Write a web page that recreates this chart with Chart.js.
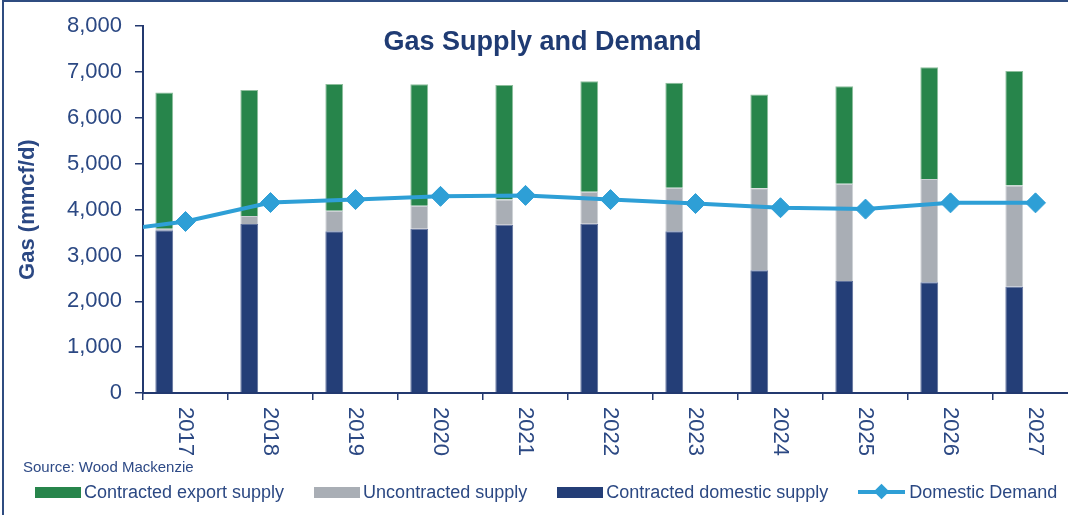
<!DOCTYPE html>
<html>
<head>
<meta charset="utf-8">
<script src="https://cdn.jsdelivr.net/npm/chart.js@4/dist/chart.umd.min.js"></script>
<style>
  html, body { margin: 0; padding: 0; background: #ffffff; overflow: hidden; width: 1068px; height: 515px; }
  #wrap { position: absolute; left: 0; top: 0; width: 1090px; height: 515px; }
  #frame { position: absolute; left: 2px; top: 0; width: 1100px; height: 600px; border: 2px solid #2F4C80; pointer-events: none; box-sizing: border-box; }
  #title { position: absolute; left: 0; top: 28px; width: 1085px; text-align: center; font: bold 27px/27px "Liberation Sans", Arial, sans-serif; color: #1F3B73; pointer-events: none; }
  #source { position: absolute; left: 23px; top: 459px; font: 15px/15px "Liberation Sans", Arial, sans-serif; color: #2E4A86; }
  #legend { position: absolute; left: 35px; top: 483px; display: flex; align-items: center; white-space: nowrap;
            font: 18px/18px "Liberation Sans", Arial, sans-serif; color: #2B4883; }
  .item { display: flex; align-items: center; margin-right: 30px; }
  .sw { width: 46px; height: 11px; margin-right: 3px; position: relative; }
  .sw.line { height: 4px; width: 47px; margin-right: 4px; }
  .sw.line::after { content: ''; position: absolute; left: 18px; top: -4.5px; width: 11px; height: 11px; background: inherit; transform: rotate(45deg); }
</style>
</head>
<body>
<div id="wrap">
  <canvas id="c" width="1090" height="515"></canvas>
  <div id="title">Gas Supply and Demand</div>
  <div id="source">Source: Wood Mackenzie</div>
  <div id="legend"></div>
</div>
<div id="frame"></div>
<script>
// ---- data ----
const years = ['2017','2018','2019','2020','2021','2022','2023','2024','2025','2026','2027'];
const contractedDomestic = [3548, 3684, 3528, 3583, 3669, 3690, 3528, 2679, 2444, 2417, 2323];
const uncontracted       = [  35,  177,  449,  500,  549,  699,  946, 1789, 2122, 2250, 2201];
const contractedExport   = [2970, 2750, 2762, 2649, 2500, 2408, 2293, 2043, 2124, 2436, 2500];
// domestic demand, including the 2016 value whose segment enters from the left edge
const demandYears = [2016, 2017, 2018, 2019, 2020, 2021, 2022, 2023, 2024, 2025, 2026, 2027];
const domesticDemand = [3500, 3741, 4154, 4218, 4289, 4310, 4218, 4132, 4041, 4011, 4147, 4147];
const seriesNames = ['Contracted export supply', 'Uncontracted supply', 'Contracted domestic supply', 'Domestic Demand'];

// ---- styles ----
const NAVY = '#243E77', GREY = '#A9AEB5', GREEN = '#27854B', BLUE = '#2E9FD6';
const TEXT = '#2B4883', AXIS = '#23396F';
const FONT = '"Liberation Sans", Arial, sans-serif';
const PADL = 4;

const demandPoints = demandYears.map((y, i) => ({ x: y - 2017, y: domesticDemand[i] }));

const xLabelPlugin = {
  id: 'xLabels',
  afterDraw(chart) {
    const xs = chart.scales.x, ctx = chart.ctx;
    ctx.save();
    ctx.font = '22px ' + FONT;
    ctx.fillStyle = TEXT;
    ctx.textAlign = 'left';
    ctx.textBaseline = 'middle';
    years.forEach((lab, i) => {
      const px = xs.getPixelForValue(i);
      ctx.save();
      ctx.translate(px, xs.top + 14);
      ctx.rotate(Math.PI / 2);
      ctx.fillText(lab, 0, 0);
      ctx.restore();
    });
    ctx.restore();
  }
};

const chart = new Chart(document.getElementById('c'), {
  type: 'bar',
  data: {
    labels: years,
    datasets: [
      { label: seriesNames[2], data: contractedDomestic, backgroundColor: NAVY, borderColor: '#5F719C', borderWidth: 1, order: 1, stack: 's' },
      { label: seriesNames[1], data: uncontracted, backgroundColor: GREY, borderColor: '#CDD0D5', borderWidth: 1, order: 1, stack: 's' },
      { label: seriesNames[0], data: contractedExport, backgroundColor: GREEN, borderColor: '#8DBE9C', borderWidth: 1, order: 1, stack: 's' },
      { type: 'line', label: seriesNames[3], data: demandPoints, xAxisID: 'x2', borderColor: BLUE, backgroundColor: BLUE,
        borderWidth: 4, tension: 0, pointStyle: 'rectRot',
        pointRadius: demandYears.map(y => y < 2017 ? 0 : 10), pointHoverRadius: 10,
        pointBorderWidth: 1, pointBorderColor: BLUE, clip: 0, order: 0 }
    ]
  },
  options: {
    responsive: false,
    animation: false,
    devicePixelRatio: 1,
    layout: { padding: { left: PADL, top: 19, right: 12, bottom: 0 } },
    datasets: { bar: { barPercentage: 0.42, categoryPercentage: 1 } },
    scales: {
      x: {
        stacked: true,
        offset: true,
        grid: { display: true, drawOnChartArea: false, offset: true, tickLength: 7, color: AXIS, lineWidth: 1.5 },
        border: { display: true, color: AXIS, width: 2 },
        ticks: { display: false },
        afterFit(s) { s.height = 515 - 393; }
      },
      x2: {
        type: 'linear', display: false, offset: false, grid: { offset: false }, min: -0.5, max: 10.5
      },
      y: {
        stacked: true,
        min: 0, max: 8000,
        ticks: { stepSize: 1000, color: TEXT, font: { family: FONT, size: 22 }, padding: 13,
                 callback: v => v.toLocaleString('en-US') },
        grid: { display: true, drawOnChartArea: false, tickLength: 8, color: AXIS, lineWidth: 1.5 },
        border: { display: true, color: AXIS, width: 2 },
        title: { display: true, text: 'Gas (mmcf/d)', color: TEXT, font: { family: FONT, size: 22, weight: 'bold' }, padding: { top: 11, bottom: 0 } },
        afterFit(s) { s.width = 143 - PADL; }
      }
    },
    plugins: {
      tooltip: { enabled: false },
      legend: { display: false }
    }
  },
  plugins: [xLabelPlugin]
});

// HTML legend built from the chart's datasets (order as in the original)
const legendOrder = [2, 1, 0, 3];
const legendEl = document.getElementById('legend');
legendOrder.forEach(di => {
  const ds = chart.data.datasets[di];
  const item = document.createElement('div');
  item.className = 'item';
  const sw = document.createElement('span');
  sw.className = 'sw' + (ds.type === 'line' ? ' line' : '');
  sw.style.background = ds.type === 'line' ? ds.borderColor : ds.backgroundColor;
  const tx = document.createElement('span');
  tx.textContent = ds.label;
  item.appendChild(sw); item.appendChild(tx);
  legendEl.appendChild(item);
});
</script>
</body>
</html>
